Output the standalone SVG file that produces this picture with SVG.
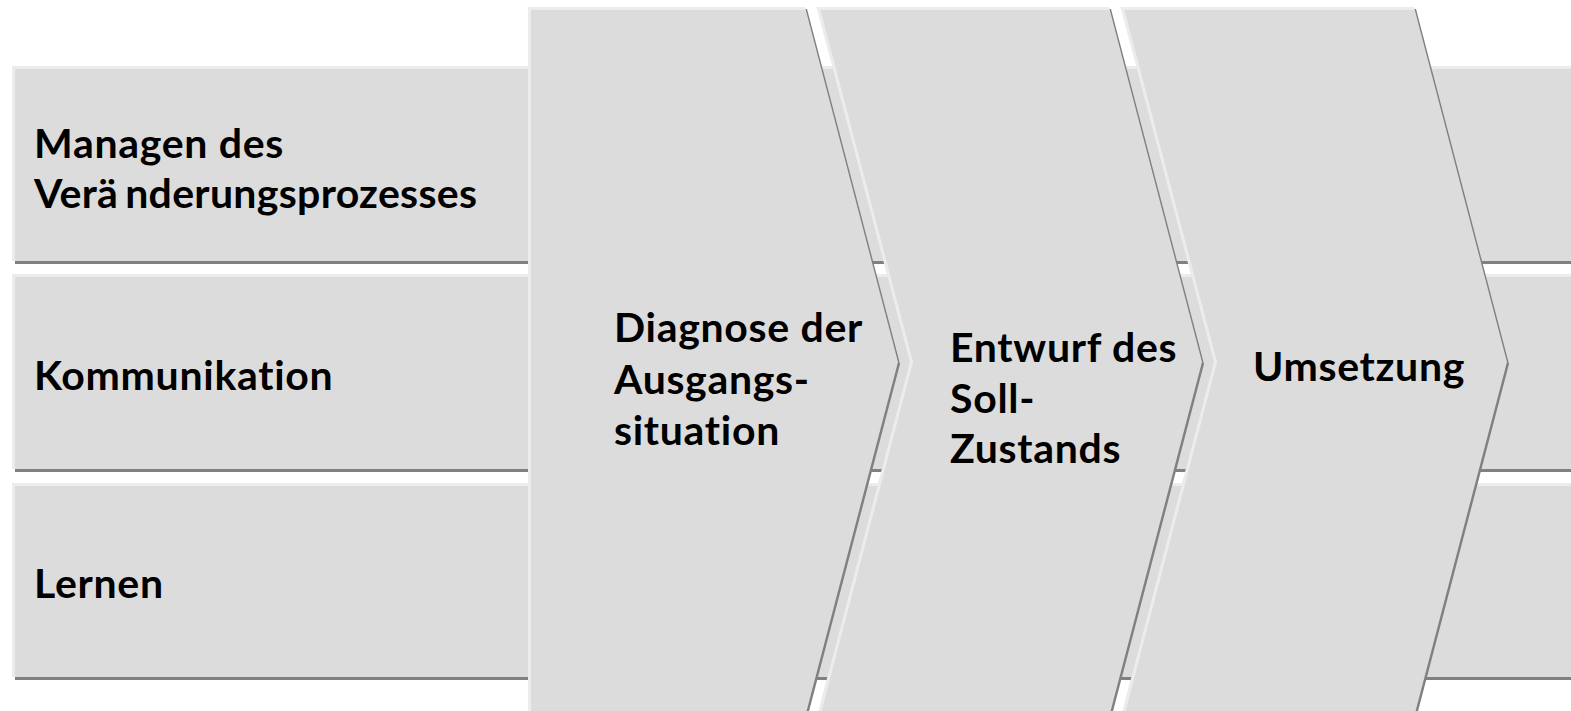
<svg xmlns="http://www.w3.org/2000/svg" width="1571" height="711" viewBox="0 0 1571 711">
  <style>
    .band { fill: #dcdcdc; }
    .shade { fill: #808080; }
    .hi { fill: none; stroke: #ececec; stroke-width: 3; }
    .lbl { font-family: Lato, "Liberation Sans", sans-serif; font-weight: 700; font-size: 41px; letter-spacing: 0.7px; font-variant-ligatures: none; fill: #000; }
    .tight { letter-spacing: 0.3px; }
  </style>
  <rect width="1571" height="711" fill="#ffffff"/>

  <!-- horizontal lanes -->
  <g id="lane-management">
    <rect class="shade" x="15" y="69" width="1580" height="195"/>
    <rect class="band" x="12" y="66" width="1580" height="195"/>
    <polyline class="hi" points="13.5,261 13.5,67.5 1592,67.5"/>
    <text class="lbl" x="34" y="158">Managen des</text>
    <text class="lbl tight" x="34" y="208">Verä<tspan dx="7">nderungsprozesses</tspan></text>
  </g>
  <g id="lane-communication">
    <rect class="shade" x="15" y="277" width="1580" height="195"/>
    <rect class="band" x="12" y="274" width="1580" height="195"/>
    <polyline class="hi" points="13.5,469 13.5,275.5 1592,275.5"/>
    <text class="lbl" x="34" y="390">Kommunikation</text>
  </g>
  <g id="lane-learning">
    <rect class="shade" x="15" y="486" width="1580" height="194"/>
    <rect class="band" x="12" y="483" width="1580" height="194"/>
    <polyline class="hi" points="13.5,677 13.5,484.5 1592,484.5"/>
    <text class="lbl" x="34" y="598">Lernen</text>
  </g>

  <!-- process chevrons -->
  <g id="step-diagnosis">
    <polygon class="shade" points="530,9 807,9 900,364 807,719 530,719"/>
    <polygon class="band" points="528,7 805,7 898,362 805,717 528,717"/>
    <polyline class="hi" points="529.5,717 529.5,8.5 805,8.5"/>
    <text class="lbl" x="614" y="342">Diagnose der</text>
    <text class="lbl" x="614" y="394">Ausgangs-</text>
    <text class="lbl" x="614" y="445">situation</text>
  </g>
  <g id="step-design">
    <polygon class="shade" points="819,9 1111,9 1204,364 1111,719 819,719 912,364"/>
    <polygon class="band" points="817,7 1109,7 1202,362 1109,717 817,717 910,362"/>
    <polyline class="hi" points="818.5,717 911.5,362 818.5,8.5 1109,8.5"/>
    <text class="lbl" x="950" y="362">Entwurf des</text>
    <text class="lbl" x="950" y="413">Soll-</text>
    <text class="lbl" x="950" y="463">Zustands</text>
  </g>
  <g id="step-implementation">
    <polygon class="shade" points="1123,9 1416,9 1509,364 1416,719 1123,719 1216,364"/>
    <polygon class="band" points="1121,7 1414,7 1507,362 1414,717 1121,717 1214,362"/>
    <polyline class="hi" points="1122.5,717 1215.5,362 1122.5,8.5 1414,8.5"/>
    <text class="lbl" x="1253" y="381">Umsetzung</text>
  </g>
</svg>
